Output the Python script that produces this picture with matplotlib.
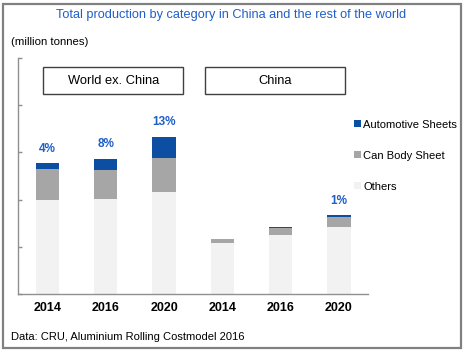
import matplotlib
matplotlib.use("Agg")
import matplotlib.pyplot as plt
from matplotlib.patches import Rectangle

plt.rcParams['font.family'] = ['Liberation Sans', 'DejaVu Sans']

years = ["2014", "2016", "2020", "2014", "2016", "2020"]
others = [10.0, 10.1, 10.85, 5.35, 6.25, 7.1]
can_body = [3.25, 3.05, 3.6, 0.45, 0.7, 1.1]
automotive = [0.6, 1.2, 2.2, 0.0, 0.1, 0.15]
share_labels = ["4%", "8%", "13%", "", "", "1%"]
groups = ["World ex. China", "China"]

c_auto = "#0b4ea2"
c_can = "#a6a6a6"
c_oth = "#f2f2f2"
c_lab = "#1f5fc8"

fig = plt.figure(figsize=(4.64, 3.5), dpi=100)
W, H = 464, 350

def fx(x):
    return x / W

def fy(y):
    return 1 - y / H

ax = fig.add_axes([fx(18.3), fy(294), fx(368) - fx(18.3), fy(58) - fy(294)])
x = list(range(len(years)))
bw = 0.4
ax.bar(x, others, bw, color=c_oth, label="Others")
b2 = [o for o in others]
ax.bar(x, can_body, bw, bottom=b2, color=c_can, label="Can Body Sheet")
b3 = [o + c for o, c in zip(others, can_body)]
ax.bar(x, automotive, bw, bottom=b3, color=c_auto, label="Automotive Sheets")
tops = [b + a for b, a in zip(b3, automotive)]
for xi, t, s in zip(x, tops, share_labels):
    if s:
        ax.annotate(s, (xi, t), xytext=(0, 6), textcoords="offset points",
                    ha="center", va="bottom", color=c_lab, fontsize=8.5, fontweight="bold")

ax.set_xlim(-0.5, 5.5)
ax.set_ylim(0, 25)
ax.set_yticks([0, 5, 10, 15, 20, 25])
ax.set_yticklabels([])
ax.set_xticks(x)
ax.set_xticklabels(years, fontsize=9, fontweight="bold")
ax.tick_params(axis="x", length=0, pad=6)
ax.tick_params(axis="y", direction="in", length=3, color="#909090", width=1)
for s in ["top", "right"]:
    ax.spines[s].set_visible(False)
for s in ["left", "bottom"]:
    ax.spines[s].set_color("#909090")
    ax.spines[s].set_linewidth(1)
ax.patch.set_alpha(0)

h, l = ax.get_legend_handles_labels()
leg = fig.legend(h[::-1], l[::-1], loc="upper left", bbox_to_anchor=(fx(354), fy(119.5)),
                 frameon=False, fontsize=8, handlelength=0.6, handleheight=0.6,
                 handletextpad=0.25, labelspacing=1.9, borderaxespad=0, borderpad=0)

fig.text(fx(231), fy(15), "Total production by category in China and the rest of the world",
         ha="center", va="center", color=c_lab, fontsize=9.2)
fig.text(fx(11), fy(42), "(million tonnes)", ha="left", va="center", fontsize=8.2)
fig.text(fx(11), fy(337), "Data: CRU, Aluminium Rolling Costmodel 2016",
         ha="left", va="center", fontsize=8)

boxes = [(43.5, 183.5), (205.3, 345.3)]
for (x0, x1), g in zip(boxes, groups):
    fig.patches.append(Rectangle((fx(x0), fy(93.5)), fx(x1) - fx(x0), fy(67) - fy(93.5),
                                 transform=fig.transFigure, fill=False,
                                 edgecolor="#404040", linewidth=1))
    fig.text(fx((x0 + x1) / 2), fy(80.5), g, ha="center", va="center", fontsize=9.3)

fig.patches.append(Rectangle((fx(3.5), fy(347.5)), fx(461) - fx(3.5), fy(3.5) - fy(347.5),
                             transform=fig.transFigure, fill=False,
                             edgecolor="#808080", linewidth=1.6))

fig.savefig("out.png", dpi=100)
